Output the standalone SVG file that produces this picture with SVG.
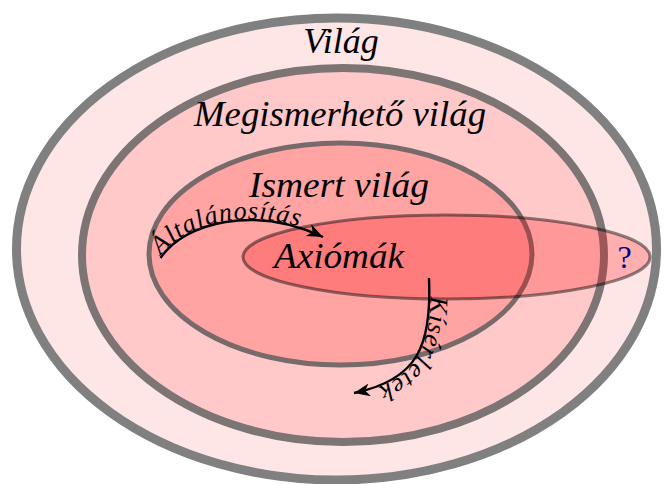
<svg xmlns="http://www.w3.org/2000/svg" width="666" height="484" viewBox="0 0 666 484">
<style>
.lbl{font-family:"Liberation Serif","Times New Roman",serif;font-style:italic;fill:#000;text-anchor:middle}
.big{font-size:36px}
.arc{fill:none;stroke:#000;stroke-width:2.4}
.arcl{font-family:"Liberation Serif","Times New Roman",serif;font-style:italic;font-size:26px;fill:#000}
</style>
<defs>
<marker id="ah" markerUnits="userSpaceOnUse" markerWidth="18" markerHeight="14" refX="16" refY="6.5" orient="auto">
<path d="M0,0 L16,6.5 L0,13 L4.5,6.5 z" fill="#000"/>
</marker>
<path id="pGen" d="M160.5,258 C185,222 255,205 323,237"/>
<path id="pExp" d="M429,278 C432,345 418,380 354,393"/>
</defs>
<g id="world">
<ellipse cx="336.5" cy="249" rx="320" ry="231" fill="#ffe6e6" stroke="#808080" stroke-width="9"/>
<text class="lbl big" x="341" y="53">Világ</text>
</g>
<g id="knowable">
<ellipse cx="343" cy="255" rx="261" ry="187" fill="#ffc9c9" stroke="#7d7474" stroke-width="8"/>
<text class="lbl big" x="340" y="126" textLength="292" lengthAdjust="spacingAndGlyphs">Megismerhető világ</text>
</g>
<g id="known">
<ellipse cx="340.5" cy="254" rx="191.5" ry="111" fill="#ffa3a3" stroke="#786a6a" stroke-width="5"/>
<text class="lbl big" x="339" y="197" textLength="180" lengthAdjust="spacingAndGlyphs">Ismert világ</text>
</g>
<g id="axioms">
<ellipse cx="446.5" cy="257" rx="203.5" ry="42" fill="#ff0000" fill-opacity="0.24" stroke="#000" stroke-opacity="0.45" stroke-width="3"/>
<text class="lbl big" x="339" y="268" textLength="130" lengthAdjust="spacingAndGlyphs">Axiómák</text>
</g>
<g id="question">
<text x="624.5" y="268" font-family="Liberation Serif, Times New Roman, serif" font-size="32" fill="#000080" text-anchor="middle">?</text>
</g>
<g id="connectors">
<use href="#pGen" class="arc" marker-end="url(#ah)"/>
<text class="arcl" dy="-1"><textPath href="#pGen" startOffset="2" textLength="148" lengthAdjust="spacing">Általánosítás</textPath></text>
<use href="#pExp" class="arc" marker-end="url(#ah)"/>
<text class="arcl" dy="-1"><textPath href="#pExp" startOffset="18" textLength="112" lengthAdjust="spacing">Kísérletek</textPath></text>
</g>
</svg>
